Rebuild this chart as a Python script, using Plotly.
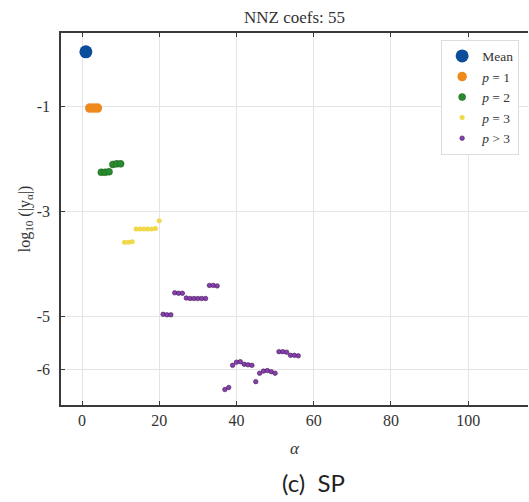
import plotly.graph_objects as go

# Coefficient magnitudes (log10 |y_alpha|) grouped by polynomial degree
mean_alpha = [1]
mean_val = [0.03]

p1_alpha = [2, 3, 4]
p1_val = [-1.04, -1.04, -1.04]

p2_alpha = [5, 6, 7, 8, 9, 10]
p2_val = [-2.26, -2.26, -2.25, -2.11, -2.10, -2.10]

p3_alpha = [11, 12, 13, 14, 15, 16, 17, 18, 19, 20]
p3_val = [-3.59, -3.59, -3.58, -3.34, -3.34, -3.34, -3.34, -3.34, -3.33, -3.18]

phi_alpha = [21, 22, 23, 24, 25, 26, 27, 28, 29, 30, 31, 32, 33, 34, 35,
             37, 38, 39, 40, 41, 42, 43, 44, 45, 46, 47, 48, 49, 50,
             51, 52, 53, 54, 55, 56]
phi_val = [-4.96, -4.97, -4.97, -4.55, -4.56, -4.56, -4.65, -4.66, -4.66, -4.66, -4.66, -4.66,
           -4.41, -4.41, -4.42,
           -6.39, -6.35, -5.93, -5.87, -5.86, -5.91, -5.92, -5.93, -6.24,
           -6.08, -6.04, -6.03, -6.05, -6.08,
           -5.67, -5.67, -5.68, -5.74, -5.74, -5.75]

x_ticks = [0, 20, 40, 60, 80, 100]
y_ticks = [-1, -3, -5, -6]
y_ticktext = ["-1", "-3", "-5", "-6"]

nnz = len(mean_val) + len(p1_val) + len(p2_val) + len(p3_val) + len(phi_val)

serif = "Liberation Serif"

fig = go.Figure()
fig.add_trace(go.Scatter(x=mean_alpha, y=mean_val, mode="markers", name="Mean",
                         marker=dict(size=13, color="#0b4d9b")))
fig.add_trace(go.Scatter(x=p1_alpha, y=p1_val, mode="markers", name="<i>p</i> = 1",
                         marker=dict(size=9.5, color="#ee8a1c")))
fig.add_trace(go.Scatter(x=p2_alpha, y=p2_val, mode="markers", name="<i>p</i> = 2",
                         marker=dict(size=7, color="#2a8a2e",
                                     line=dict(width=0.5, color="#1b5e1e"))))
fig.add_trace(go.Scatter(x=p3_alpha, y=p3_val, mode="markers", name="<i>p</i> = 3",
                         marker=dict(size=5, color="#f0d84a")))
fig.add_trace(go.Scatter(x=phi_alpha, y=phi_val, mode="markers", name="<i>p</i> > 3",
                         marker=dict(size=4.5, color="#8a3fb0",
                                     line=dict(width=0.6, color="#3e1a52"))))

axis_common = dict(
    showline=True, linecolor="#3a3a3a", linewidth=1.5,
    showgrid=True, gridcolor="#e4e4e4", gridwidth=1,
    zeroline=False, ticks="inside", ticklen=4, tickcolor="#3a3a3a",
    tickfont=dict(family=serif, size=16, color="#333333"),
)

fig.update_layout(
    width=529, height=502,
    margin=dict(l=61, r=1, t=33, b=97),
    paper_bgcolor="white", plot_bgcolor="white",
    title=dict(text=f"NNZ coefs: {nnz}", x=0.5, xref="paper", xanchor="center",
               y=1 - 17 / 502, yanchor="middle",
               font=dict(family=serif, size=17, color="#333333")),
    xaxis=dict(range=[-5.44, 115.5], tickvals=x_ticks, mirror="ticks",
               title=dict(text="<i>α</i>", standoff=14,
                          font=dict(family=serif, size=17, color="#333333")),
               **axis_common),
    yaxis=dict(range=[-6.684, 0.388], tickvals=y_ticks, ticktext=y_ticktext,
               mirror=False, ticklabelstandoff=6,
               title=dict(text="log<sub>10</sub> (|y<sub>α</sub>|)", standoff=2,
                          font=dict(family=serif, size=16, color="#333333")),
               **axis_common),
    legend=dict(x=0.814, y=0.982, xanchor="left", yanchor="top",
                bgcolor="white", bordercolor="#dddddd", borderwidth=1,
                font=dict(family=serif, size=13.5, color="#333333"),
                tracegroupgap=0),
    showlegend=True,
)

fig.add_annotation(text="(c)  SP", xref="paper", yref="paper",
                   x=(280 - 61) / 467, y=-(482 - 405) / 372,
                   xanchor="left", yanchor="middle", showarrow=False,
                   font=dict(family="Lato", size=24, color="#222222"))

fig.write_html("out.html")
